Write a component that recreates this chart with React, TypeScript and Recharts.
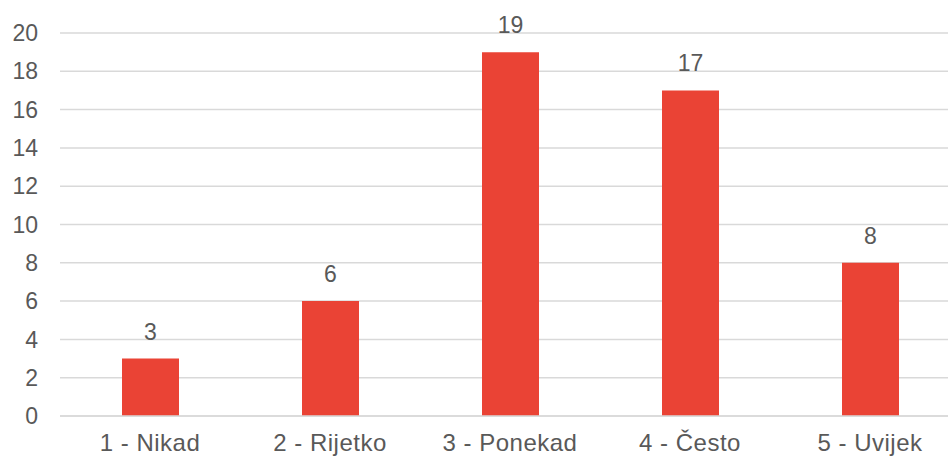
import React from "react";
import { BarChart, Bar, XAxis, YAxis, CartesianGrid, LabelList } from "recharts";

const categories = ["1 - Nikad", "2 - Rijetko", "3 - Ponekad", "4 - Često", "5 - Uvijek"];
const counts = [3, 6, 19, 17, 8];
const yTicks = [0, 2, 4, 6, 8, 10, 12, 14, 16, 18, 20];

const data = categories.map((c, i) => ({ name: c, value: counts[i] }));

const font = "'Liberation Sans', Arial, sans-serif";
const textColor = "#595959";

export default function App() {
  return (
    <div style={{ position: "absolute", left: 0, top: 0, width: 948, height: 459, overflow: "hidden", background: "#fff" }}>
      <BarChart
        width={960}
        height={459}
        data={data}
        margin={{ top: 33, right: 0, bottom: 0, left: 0 }}
        style={{ fontFamily: font }}
      >
        <CartesianGrid vertical={false} stroke="#D9D9D9" strokeWidth={1.5} />
        <XAxis
          dataKey="name"
          height={43}
          tickLine={false}
          tickSize={0}
          tickMargin={18}
          axisLine={{ stroke: "#D9D9D9", strokeWidth: 1.5 }}
          tick={{ fill: textColor, fontSize: 24, fontFamily: font, letterSpacing: 0.5 }}
          interval={0}
        />
        <YAxis
          width={60}
          domain={[0, 20]}
          ticks={yTicks}
          tickLine={false}
          tickSize={0}
          tickMargin={22}
          axisLine={false}
          tick={{ fill: textColor, fontSize: 23, fontFamily: font }}
          interval={0}
        />
        <Bar dataKey="value" fill="#EA4335" barSize={57} isAnimationActive={false}>
          <LabelList dataKey="value" position="top" offset={19} fill={textColor} fontSize={23} fontFamily={font} />
        </Bar>
      </BarChart>
    </div>
  );
}
